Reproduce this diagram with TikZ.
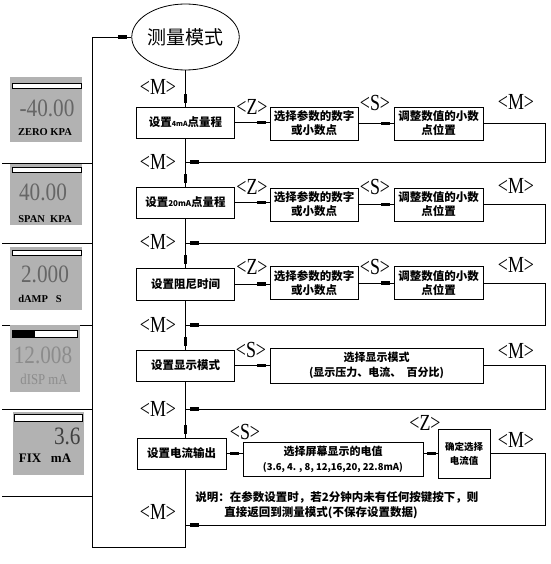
\documentclass[tikz,border=0pt]{standalone}
\usepackage{fontspec}
\setmainfont{Liberation Serif}
\newfontfamily\cjk{Noto Sans CJK SC}
\newfontfamily\cjkr{Noto Sans CJK SC}
\newfontfamily\keyf[FakeStretch=0.78]{Liberation Serif}
\newfontfamily\lcdf[FakeStretch=0.85]{Liberation Serif}
\usetikzlibrary{decorations.markings,shapes.geometric}
\newcommand\cnf{\cjk\bfseries\fontsize{11.5}{14}\selectfont}
\begin{document}
\begin{tikzpicture}[x=1pt,y=-1pt,line width=0.8pt,
  box/.style={draw,rectangle,inner sep=1pt,align=center,font=\cnf},
  key/.style={font=\keyf\fontsize{23}{23}\selectfont,inner sep=0pt},
  mk/.style={postaction={decorate,decoration={markings,mark=at position -4pt with {\fill (-9pt,-1.6pt) rectangle (0pt,1.6pt);}}}},
  lcd/.style={fill=black!30,draw=none},
  bar/.style={draw,fill=white,line width=0.6pt},
  dig/.style={font=\lcdf\fontsize{25}{25}\selectfont,text=black!60,inner sep=0pt},
  lcdt/.style={font=\bfseries\fontsize{10.5}{10.5}\selectfont,inner sep=0pt},
  ]
\useasboundingbox[fill=white] (0,0) rectangle (550,564);

% main nodes
\node[draw,ellipse,minimum width=90pt,minimum height=66pt,inner sep=0pt,font=\cjkr\fontsize{19}{19}\selectfont] (ell) at (185.5,37) {测量模式};
\node[box,minimum width=98pt,minimum height=31pt] (b1) at (185.5,122.5) {设置{\fontsize{7}{7}\selectfont 4mA}点量程};
\node[box,minimum width=98pt,minimum height=31pt] (b2) at (185.5,202.5) {设置{\fontsize{8}{8}\selectfont 20mA}点量程};
\node[box,minimum width=98pt,minimum height=32pt] (b3) at (185.5,284) {设置阻尼时间};
\node[box,minimum width=98pt,minimum height=31pt] (b4) at (185.5,365.5) {设置显示模式};
\node[box,minimum width=89pt,minimum height=31pt] (b5) at (181.5,453.5) {设置电流输出};

\node[box,minimum width=88pt,minimum height=33pt] (c1) at (314,123.5) {选择参数的数字\\或小数点};
\node[box,minimum width=89pt,minimum height=33pt] (d1) at (438.5,123.5) {调整数值的小数\\点位置};
\node[box,minimum width=88pt,minimum height=33pt] (c2) at (314,204.5) {选择参数的数字\\或小数点};
\node[box,minimum width=89pt,minimum height=33pt] (d2) at (438.5,204.5) {调整数值的小数\\点位置};
\node[box,minimum width=88pt,minimum height=33pt] (c3) at (314,283) {选择参数的数字\\或小数点};
\node[box,minimum width=89pt,minimum height=33pt] (d3) at (438.5,283) {调整数值的小数\\点位置};
\node[box,minimum width=213pt,minimum height=35pt,font=\cjk\bfseries\fontsize{11}{15}\selectfont] (c4) at (376.5,365.5) {选择显示模式\\(显示压力、电流、\ \ 百分比)};
\node[box,minimum width=180pt,minimum height=34pt,font=\cjk\bfseries\fontsize{11}{15}\selectfont] (c5) at (333,459) {选择屏幕显示的电值\\{\fontsize{9.5}{11}\selectfont (3.6, 4. , 8, 12,16,20, 22.8mA)}};
\node[box,minimum width=52pt,minimum height=49pt,font=\cjk\bfseries\fontsize{9.5}{14}\selectfont] (d5) at (464,453.5) {确定选择\\电流值};

% coordinates
\coordinate (fb) at (92,547);
\foreach \i/\y in {1/162,2/243,3/325,4/409,5/525}{
  \coordinate (r\i) at (185.5,\y);
  \coordinate (k\i) at (545,\y);
}

% vertical flow
\draw[mk] (ell.south) -- (b1.north);
\draw[mk] (b1.south) -- (b2.north);
\draw[mk] (b2.south) -- (b3.north);
\draw[mk] (b3.south) -- (b4.north);
\draw[mk] (b4.south) -- (b4.south |- b5.north);
\draw[mk] (b4.south |- b5.south) |- (fb) |- (ell.west);

% horizontal flow
\foreach \i in {1,2,3}{
  \draw[mk] (b\i.east) -- (b\i.east -| c\i.west);
  \draw[mk] (c\i.east) -- (d\i.west);
  \draw[mk] (d\i.east) -| (k\i) -- (r\i);
}
\draw[mk] (b4.east) -- (b4.east -| c4.west);
\draw[mk] (c4.east) -| (k4) -- (r4);
\draw[mk] (b5.east) -- (b5.east -| c5.west);
\draw[mk] (d5.west) -- (d5.west -| c5.east);
\draw[mk] (d5.east) -| (k5) -- (r5);

% key labels
\foreach \y in {87,162,242,325,409,512}{\node[key] at (158,\y) {<M>};}
\foreach \y in {107,187,267}{\node[key] at (252,\y) {<Z>};}
\foreach \y in {103,187,267}{\node[key] at (375,\y) {<S>};}
\foreach \y in {102,186,265,351,440}{\node[key] at (516,\y) {<M>};}
\node[key] at (251,350) {<S>};
\node[key] at (245,432) {<S>};
\node[key] at (425,423) {<Z>};

% note
\node[anchor=north west,align=left,inner sep=0pt,font=\cjk\bfseries\fontsize{11.5}{15}\selectfont] (note) at (195,491) {说明：在参数设置时，若2分钟内未有任何按键按下，则\\\hspace*{29pt}直接返回到测量模式(不保存设置数据)};

% left panel separators
\foreach \y in {163,243,325,409,496}{\draw (2,\y) -- (92,\y);}

% LCD 1
\fill[lcd] (10,77) rectangle (82,142);
\draw[bar] (12,83) rectangle (81,88);
\node[dig] at (47,108) {-40.00};
\node[lcdt] at (45,132) {ZERO KPA};
% LCD 2
\fill[lcd] (10,164) rectangle (82,225);
\draw[bar] (12,167) rectangle (81,172);
\node[dig] at (43,192) {40.00};
\node[lcdt] at (45,219) {SPAN\ \ KPA};
% LCD 3
\fill[lcd] (10,247) rectangle (82,310);
\draw[bar] (12,250) rectangle (81,255);
\node[dig] at (45,274) {2.000};
\node[lcdt] at (40,299) {dAMP\ \ \ S};
% LCD 4
\fill[lcd] (10,325) rectangle (80,392);
\draw[bar] (12,330) rectangle (77,337);
\fill (12,330) rectangle (35,337);
\node[dig,text=black!45] at (43,355) {12.008};
\node[font=\lcdf\fontsize{15}{15}\selectfont,text=black!45,inner sep=0pt] at (44,379) {dISP\ mA};
% LCD 5
\fill[lcd] (13,412) rectangle (84,475);
\draw[bar] (14,414) rectangle (82,421);
\node[dig,text=black!75,anchor=east] at (81,436) {3.6};
\node[lcdt,font=\bfseries\fontsize{13}{13}\selectfont] at (45,458) {FIX\ \ \ mA};
\end{tikzpicture}
\end{document}
